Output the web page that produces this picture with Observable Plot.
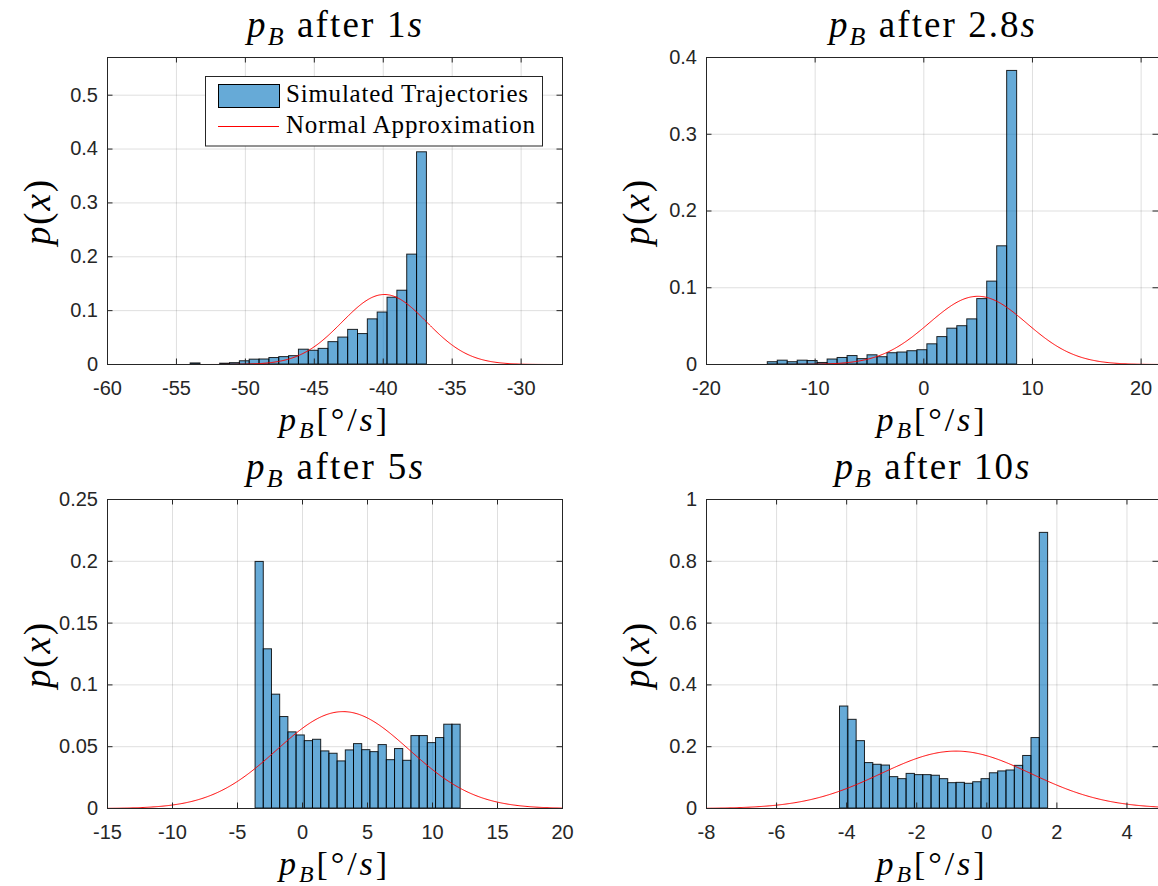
<!DOCTYPE html>
<html><head><meta charset="utf-8">
<script src="https://cdn.jsdelivr.net/npm/d3@7"></script>
<script src="https://cdn.jsdelivr.net/npm/@observablehq/plot@0.6"></script>
<style>
html,body{margin:0;padding:0;background:#fff;}
#root{position:relative;width:1158px;height:886px;overflow:hidden;background:#fff;}
#root svg{position:absolute;}
.rt, .rt tspan{font-family:'Liberation Serif','DejaVu Serif','Times New Roman',serif !important;}
</style></head><body><div id="root"></div>
<script>
// ---- data ----
const panelTimes = ["1", "2.8", "5", "10"];
const binStart = [-53.97, -14.36, -3.61, -4.19];
const binWidth = [0.714, 0.918, 0.631, 0.2376];
const density1 = [0.002, 0, 0, 0.0015, 0.0025, 0.006, 0.009, 0.0093, 0.012, 0.0137, 0.0155, 0.0275, 0.0255, 0.029, 0.0415, 0.050, 0.0643, 0.0565, 0.0838, 0.0965, 0.124, 0.137, 0.204, 0.394];
const density2 = [0.003, 0.005, 0.003, 0.005, 0.0045, 0.002, 0.0065, 0.0085, 0.011, 0.007, 0.012, 0.0095, 0.0147, 0.0156, 0.0173, 0.0186, 0.0263, 0.0357, 0.0467, 0.0499, 0.0588, 0.0852, 0.108, 0.154, 0.3825];
const density3 = [0.1995, 0.1288, 0.0921, 0.074, 0.0616, 0.0591, 0.0545, 0.0556, 0.0462, 0.0443, 0.0381, 0.047, 0.0521, 0.0472, 0.0456, 0.0513, 0.0391, 0.0481, 0.0386, 0.0586, 0.0586, 0.0529, 0.057, 0.0678, 0.0678];
const density4 = [0.330, 0.287, 0.218, 0.147, 0.1415, 0.139, 0.1015, 0.095, 0.112, 0.108, 0.108, 0.106, 0.095, 0.082, 0.083, 0.080, 0.085, 0.095, 0.114, 0.120, 0.123, 0.138, 0.170, 0.228, 0.892];
const densities = [density1, density2, density3, density4];
const normalMean = [-39.92, 4.97, 3.12, -0.88];
const normalStd = [3.07, 4.49, 5.09, 2.148];
const xDomains = [[-60, -27], [-20, 21.6], [-15, 20], [-8, 4.9]];
const yDomains = [[0, 0.57], [0, 0.4], [0, 0.25], [0, 1]];
const xTicks1 = [-60, -55, -50, -45, -40, -35, -30];
const xTicks2 = [-20, -10, 0, 10, 20];
const xTicks3 = [-15, -10, -5, 0, 5, 10, 15, 20];
const xTicks4 = [-8, -6, -4, -2, 0, 2, 4];
const yTicks1 = [0, 0.1, 0.2, 0.3, 0.4, 0.5];
const yTicks2 = [0, 0.1, 0.2, 0.3, 0.4];
const yTicks3 = [0, 0.05, 0.1, 0.15, 0.2, 0.25];
const yTicks4 = [0, 0.2, 0.4, 0.6, 0.8, 1];
const xTicks = [xTicks1, xTicks2, xTicks3, xTicks4];
const yTicks = [yTicks1, yTicks2, yTicks3, yTicks4];
const legendLabels = ["Simulated Trajectories", "Normal Approximation"];

// ---- layout (styles) ----
const W = 579, H = 443;
const layout = [
  {ox: 0,   oy: 0,   ml: 107, mr: 17, mt: 57, mb: 79},
  {ox: 579, oy: 0,   ml: 127, mr: 0,  mt: 57, mb: 79},
  {ox: 0,   oy: 443, ml: 107, mr: 17, mt: 56, mb: 78},
  {ox: 579, oy: 443, ml: 127, mr: 0,  mt: 56, mb: 78}
];
const titleLen = [175, 206, 177, 195];
const AX = "#262626";

function rich(svg, {x, y, parts, size, length, rotate, anchor = "middle"}) {
  const t = d3.select(svg).append("text")
    .attr("class", "rt")
    .attr("text-anchor", anchor)
    .style("text-anchor", anchor)
    .attr("font-size", size)
    .attr("fill", "#000")
    .style("white-space", "pre");
  if (rotate) t.attr("transform", `translate(${x},${y}) rotate(-90)`);
  else t.attr("x", x).attr("y", y);
  if (length) t.attr("textLength", length).attr("lengthAdjust", "spacing");
  let shift = 0;
  for (const p of parts) {
    const s = t.append("tspan").text(p.t);
    s.style("font-style", p.i ? "italic" : "normal");
    const target = p.sub ? size * 0.22 : 0;
    s.attr("font-size", p.sub ? size * 0.7 : size);
    if (target !== shift) { s.attr("dy", target - shift); shift = target; }
  }
  return t;
}

const root = document.getElementById("root");
for (let k = 0; k < 4; k++) {
  const L = layout[k];
  const fw = W - L.ml - L.mr, fh = H - L.mt - L.mb;
  const bins = densities[k].map((v, i) => ({x1: binStart[k] + i * binWidth[k], x2: binStart[k] + (i + 1) * binWidth[k], y: v}));
  const [lo, hi] = xDomains[k];
  const mu = normalMean[k], sd = normalStd[k];
  const curve = d3.range(0, 501).map(j => {
    const x = lo + (hi - lo) * j / 500;
    return {x, y: Math.exp(-0.5 * ((x - mu) / sd) ** 2) / (sd * Math.sqrt(2 * Math.PI))};
  });
  const xt = xTicks[k], yt = yTicks[k];
  const svg = Plot.plot({
    width: W, height: H,
    marginLeft: L.ml, marginRight: L.mr, marginTop: L.mt, marginBottom: L.mb,
    x: {domain: xDomains[k], label: null},
    y: {domain: yDomains[k], label: null},
    style: {fontFamily: "'Liberation Sans',Arial,sans-serif", fontSize: "20px", color: AX, background: "transparent", overflow: "visible"},
    marks: [
      Plot.gridX(xt, {stroke: AX, strokeOpacity: 0.15, strokeWidth: 1}),
      Plot.gridY(yt, {stroke: AX, strokeOpacity: 0.15, strokeWidth: 1}),
      Plot.rectY(bins, {x1: "x1", x2: "x2", y: "y", inset: 0, fill: "#0072BD", fillOpacity: 0.6, stroke: "#000", strokeOpacity: 0.85, strokeWidth: 1}),
      Plot.line(curve, {x: "x", y: "y", stroke: "#ff0000", strokeWidth: 1, clip: true}),
      Plot.axisX(xt, {tickSize: 0, tickPadding: 16, tickFormat: d => String(d), fontSize: 20, fill: AX, label: null}),
      Plot.axisY(yt, {tickSize: 0, tickPadding: 9.5, tickFormat: d => String(d), fontSize: 20, fill: AX, label: null}),
      Plot.tickX(xt, {x: d => d, insetTop: fh - 5.5, stroke: AX}),
      Plot.tickX(xt, {x: d => d, insetBottom: fh - 5.5, stroke: AX}),
      Plot.tickY(yt, {y: d => d, insetRight: fw - 5.5, stroke: AX}),
      Plot.tickY(yt, {y: d => d, insetLeft: fw - 5.5, stroke: AX}),
      Plot.frame({stroke: AX, strokeWidth: 1})
    ]
  });
  svg.style.left = L.ox + "px";
  svg.style.top = L.oy + "px";
  root.appendChild(svg);

  const cx = L.ml + fw / 2;
  // title
  rich(svg, {x: cx, y: L.mt - 20.5, size: 37, length: titleLen[k],
    parts: [{t: "p", i: 1}, {t: "B", i: 1, sub: 1}, {t: " after " + panelTimes[k]}, {t: "s", i: 1}]});
  // x label
  rich(svg, {x: cx - 1.5, y: L.mt + fh + 66.5, size: 34, length: 108,
    parts: [{t: "p", i: 1}, {t: "B", i: 1, sub: 1}, {t: "[°/"}, {t: "s", i: 1}, {t: "]"}]});
  // y label
  rich(svg, {x: L.ml - 57, y: L.mt + fh / 2 + 2, size: 37, length: 65, rotate: true,
    parts: [{t: "p", i: 1}, {t: "("}, {t: "x", i: 1}, {t: ")"}]});

  if (k === 0) {
    const g = d3.select(svg).append("g");
    g.append("rect").attr("x", 205.5).attr("y", 76.5).attr("width", 337).attr("height", 69.5)
      .attr("fill", "#fff").attr("stroke", AX).attr("stroke-width", 1);
    g.append("rect").attr("x", 218.5).attr("y", 84.5).attr("width", 61).attr("height", 23)
      .attr("fill", "#0072BD").attr("fill-opacity", 0.6).attr("stroke", "#000").attr("stroke-width", 1);
    g.append("line").attr("x1", 218).attr("x2", 279).attr("y1", 126.5).attr("y2", 126.5)
      .attr("stroke", "#ff0000").attr("stroke-width", 1);
    rich(svg, {x: 286, y: 102, size: 25, length: 242, anchor: "start", parts: [{t: legendLabels[0]}]});
    rich(svg, {x: 286, y: 133, size: 25, length: 249, anchor: "start", parts: [{t: legendLabels[1]}]});
  }
}
</script></body></html>
